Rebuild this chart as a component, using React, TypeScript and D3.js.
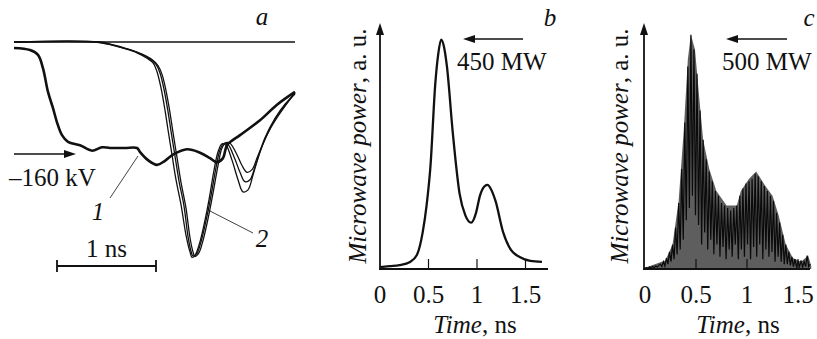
import { useRef, useEffect } from 'react';
import * as d3 from 'd3';

// panel a: voltage (1) and current (2) traces, time in ns, value in kV-ish units
const voltT = [0, 0.16, 0.24, 0.29, 0.34, 0.39, 0.43, 0.48, 0.54, 0.66, 0.78, 0.88, 0.96, 1.11, 1.23, 1.26, 1.34, 1.43, 1.51, 1.59, 1.73, 1.86, 1.96, 2.03, 2.09, 2.13, 2.26, 2.46, 2.63, 2.81];
const voltV = [-9, -12, -19, -39, -74, -98, -119, -138, -148, -153, -161, -156, -157, -157, -157, -163, -175, -182, -176, -167, -159, -164, -172, -178, -172, -153, -138, -116, -93, -74];

const curAT = [0, 0.81, 0.96, 1.11, 1.23, 1.33, 1.39, 1.43, 1.47, 1.51, 1.54, 1.58, 1.62, 1.67, 1.72, 1.76, 1.78, 1.81, 1.85, 1.90, 1.95, 2.00, 2.04, 2.08, 2.12, 2.18, 2.24, 2.29, 2.34, 2.39, 2.44, 2.51, 2.61, 2.71, 2.81];
const curAV = [0, 0, -4, -10, -16, -24, -31, -44, -68, -101, -130, -167, -204, -241, -286, -311, -319, -316, -301, -271, -234, -190, -163, -151, -153, -175, -204, -222, -219, -197, -172, -142, -113, -92, -77];
const curBT = [0, 0.83, 0.98, 1.13, 1.26, 1.36, 1.42, 1.46, 1.50, 1.54, 1.57, 1.61, 1.65, 1.70, 1.74, 1.77, 1.79, 1.83, 1.87, 1.92, 1.97, 2.02, 2.06, 2.10, 2.14, 2.20, 2.26, 2.31, 2.36, 2.41, 2.46, 2.53, 2.62, 2.72, 2.81];
const curBV = [0, 0, -4, -10, -17, -25, -33, -46, -70, -103, -132, -169, -206, -243, -288, -310, -317, -313, -296, -265, -228, -186, -160, -150, -152, -170, -193, -207, -204, -185, -163, -137, -112, -92, -76];
const curCT = [0, 0.86, 1.0, 1.15, 1.28, 1.38, 1.44, 1.48, 1.52, 1.56, 1.59, 1.63, 1.67, 1.72, 1.76, 1.79, 1.81, 1.85, 1.89, 1.94, 1.99, 2.04, 2.08, 2.12, 2.16, 2.22, 2.28, 2.33, 2.38, 2.43, 2.48, 2.55, 2.64, 2.73, 2.81];
const curCV = [0, 0, -5, -11, -18, -26, -35, -48, -72, -105, -134, -171, -208, -246, -290, -311, -318, -312, -294, -262, -224, -183, -157, -149, -150, -164, -183, -193, -189, -172, -154, -132, -110, -91, -75];

// panel b: smooth microwave pulse (a.u.)
const pulseT = [0, 0.1, 0.2, 0.31, 0.38, 0.44, 0.48, 0.52, 0.57, 0.6, 0.63, 0.66, 0.69, 0.75, 0.82, 0.88, 0.94, 0.99, 1.03, 1.08, 1.11, 1.14, 1.19, 1.27, 1.35, 1.44, 1.55, 1.67];
const pulseV = [0.008, 0.012, 0.016, 0.029, 0.057, 0.15, 0.26, 0.42, 0.76, 0.88, 0.94, 0.91, 0.83, 0.56, 0.31, 0.22, 0.19, 0.23, 0.30, 0.34, 0.345, 0.33, 0.28, 0.15, 0.078, 0.049, 0.033, 0.029];

// panel c: raw detector signal (sampled every 0.015 ns) and its envelope
const rawDt = 0.015;
const rawV = [
  0.004, 0.006, 0.003, 0.008, 0.005, 0.01, 0.006, 0.012, 0.008, 0.015,
  0.02, 0.01, 0.03, 0.012, 0.045, 0.02, 0.07, 0.03, 0.1, 0.04,
  0.17, 0.06, 0.27, 0.08, 0.41, 0.12, 0.6, 0.2, 0.83, 0.25,
  0.96, 0.3, 0.9, 0.22, 0.8, 0.18, 0.65, 0.1, 0.53, 0.15,
  0.45, 0.08, 0.4, 0.12, 0.36, 0.06, 0.32, 0.1, 0.3, 0.05,
  0.27, 0.09, 0.26, 0.04, 0.25, 0.08, 0.24, 0.05, 0.25, 0.1,
  0.26, 0.04, 0.3, 0.08, 0.33, 0.05, 0.35, 0.1, 0.36, 0.04,
  0.37, 0.09, 0.39, 0.05, 0.38, 0.1, 0.36, 0.04, 0.34, 0.08,
  0.32, 0.05, 0.3, 0.07, 0.28, 0.03, 0.23, 0.05, 0.19, 0.03,
  0.14, 0.02, 0.1, 0.02, 0.07, 0.015, 0.05, 0.01, 0.04, 0.01,
  0.03, 0.01, 0.035, 0.008, 0.03, 0.01, 0.055, 0.01, 0.02
];
const envT = [0, 0.2, 0.27, 0.33, 0.38, 0.42, 0.45, 0.49, 0.53, 0.57, 0.63, 0.7, 0.8, 0.9, 0.94, 1.02, 1.09, 1.18, 1.25, 1.31, 1.38, 1.45, 1.53, 1.6, 1.63];
const envV = [0.005, 0.035, 0.1, 0.28, 0.57, 0.86, 0.96, 0.9, 0.71, 0.53, 0.41, 0.32, 0.26, 0.26, 0.32, 0.37, 0.4, 0.34, 0.3, 0.22, 0.1, 0.045, 0.03, 0.055, 0.012];

const ticksBC = [0, 0.5, 1, 1.5];

const serif = '"Liberation Serif", "Times New Roman", serif';

export default function App() {
  const svgRef = useRef(null);

  useEffect(() => {
    const W = 817, H = 339;
    const svg = d3.select(svgRef.current)
      .attr('width', W).attr('height', H)
      .style('font-family', serif);
    svg.selectAll('*').remove();

    const zip = (ts, vs) => ts.map((t, i) => [t, vs[i]]);

    function arrowHead(x, y, dir) {
      // dir: 'l', 'r', 'u'
      const L = 12, hw = 4;
      let pts;
      if (dir === 'r') pts = [[x, y], [x - L, y - hw], [x - L, y + hw]];
      else if (dir === 'l') pts = [[x, y], [x + L, y - hw], [x + L, y + hw]];
      else pts = [[x, y], [x - hw, y + L], [x + hw, y + L]];
      svg.append('path').attr('d', 'M' + pts.join('L') + 'Z').attr('fill', '#111');
    }

    function txt(x, y, s, opts = {}) {
      const t = svg.append('text')
        .attr('x', x).attr('y', y)
        .attr('font-size', opts.size || 25)
        .attr('fill', '#111')
        .attr('text-anchor', opts.anchor || 'start')
        .attr('font-style', opts.italic ? 'italic' : 'normal');
      if (opts.rotate) t.attr('transform', `rotate(-90,${x},${y})`);
      return t.text(s);
    }

    // ---------- panel a ----------
    const xA = d3.scaleLinear().domain([0, 2.81]).range([14, 295]);
    const yA = d3.scaleLinear().domain([0, -320]).range([42, 258]);
    const lineA = d3.line().x(d => xA(d[0])).y(d => yA(d[1])).curve(d3.curveCatmullRom);

    svg.append('line')
      .attr('x1', xA(0)).attr('x2', xA(2.81))
      .attr('y1', yA(0)).attr('y2', yA(0))
      .attr('stroke', '#111').attr('stroke-width', 1.6);

    [[curAT, curAV], [curBT, curBV], [curCT, curCV]].forEach(([t, v]) => {
      svg.append('path').datum(zip(t, v))
        .attr('d', lineA).attr('fill', 'none')
        .attr('stroke', '#111').attr('stroke-width', 1.3);
    });

    svg.append('path').datum(zip(voltT, voltV))
      .attr('d', lineA).attr('fill', 'none')
      .attr('stroke', '#111').attr('stroke-width', 2.6);

    txt(262, 25, 'a', { italic: true, anchor: 'middle' });

    // -160 kV marker
    svg.append('line').attr('x1', 14).attr('x2', 70).attr('y1', yA(-166)).attr('y2', yA(-166))
      .attr('stroke', '#111').attr('stroke-width', 1.5);
    arrowHead(76, yA(-166), 'r');
    txt(9, 186, '\u2013160 kV');

    // curve labels
    svg.append('line').attr('x1', 110).attr('y1', 198).attr('x2', 138).attr('y2', 156)
      .attr('stroke', '#111').attr('stroke-width', 0.8);
    txt(98, 220, '1', { italic: true, anchor: 'middle' });
    svg.append('line').attr('x1', 208).attr('y1', 210).attr('x2', 253).attr('y2', 233)
      .attr('stroke', '#111').attr('stroke-width', 0.8);
    txt(262, 247, '2', { italic: true, anchor: 'middle' });

    // 1 ns scale bar
    const sb0 = xA(0.43), sb1 = xA(1.42);
    svg.append('path')
      .attr('d', `M${sb0},266H${sb1}M${sb0},260V272M${sb1},260V272`)
      .attr('stroke', '#111').attr('stroke-width', 1.8).attr('fill', 'none');
    txt((sb0 + sb1) / 2, 257, '1 ns', { anchor: 'middle' });

    // ---------- panels b & c ----------
    const yBC = d3.scaleLinear().domain([0, 1]).range([269, 25]);

    function frame(x0, x1, xs, labelX, labelCX, letter, letterX, mw, mwX, arrX0, arrX1) {
      svg.append('line').attr('x1', x0).attr('x2', x0).attr('y1', 270).attr('y2', 34)
        .attr('stroke', '#111').attr('stroke-width', 1.8);
      arrowHead(x0, 23, 'u');
      svg.append('line').attr('x1', x0 - 1).attr('x2', x1).attr('y1', 269).attr('y2', 269)
        .attr('stroke', '#111').attr('stroke-width', 2);
      ticksBC.slice(1).forEach(t => {
        svg.append('line').attr('x1', xs(t)).attr('x2', xs(t)).attr('y1', 269).attr('y2', 259)
          .attr('stroke', '#111').attr('stroke-width', 1.2);
      });
      ticksBC.forEach(t => txt(xs(t), 303, String(t), { anchor: 'middle' }));
      const tl = txt(labelCX, 333, '', { anchor: 'middle' });
      tl.append('tspan').attr('font-style', 'italic').text('Time');
      tl.append('tspan').text(', ns');
      const yl = txt(labelX, 146, '', { anchor: 'middle', rotate: true });
      yl.append('tspan').attr('font-style', 'italic').text('Microwave power');
      yl.append('tspan').text(', a. u.');
      txt(letterX, 26, letter, { italic: true, anchor: 'middle' });
      svg.append('line').attr('x1', arrX0).attr('x2', arrX1 + 8).attr('y1', 39).attr('y2', 39)
        .attr('stroke', '#111').attr('stroke-width', 1.5);
      arrowHead(arrX1, 39, 'l');
      txt(mwX, 70, mw);
    }

    // b
    const xB = d3.scaleLinear().domain([0, 1.5]).range([380, 525.5]);
    svg.append('path').datum(zip(pulseT, pulseV))
      .attr('d', d3.line().x(d => xB(d[0])).y(d => yBC(d[1])).curve(d3.curveMonotoneX))
      .attr('fill', 'none').attr('stroke', '#111').attr('stroke-width', 2.3);
    frame(380, 548, xB, 366, 475, 'b', 550, '450 MW', 457, 523, 463);

    // c
    const xC = d3.scaleLinear().domain([0, 1.5]).range([645, 798]);
    svg.append('path').datum(zip(envT, envV))
      .attr('d', d3.area().x(d => xC(d[0])).y0(yBC(0)).y1(d => yBC(d[1])).curve(d3.curveLinear))
      .attr('fill', '#5e5e5e');
    svg.append('path').datum(rawV.map((v, i) => [i * rawDt, v]))
      .attr('d', d3.line().x(d => xC(d[0])).y(d => yBC(d[1])))
      .attr('fill', 'none').attr('stroke', '#0a0a0a').attr('stroke-width', 1.2);
    frame(644, 810, xC, 628, 738, 'c', 809, '500 MW', 722, 787, 726);
  }, []);

  return (
    <div style={{ position: 'absolute', left: 0, top: 0, background: '#fff' }}>
      <svg ref={svgRef}></svg>
    </div>
  );
}
